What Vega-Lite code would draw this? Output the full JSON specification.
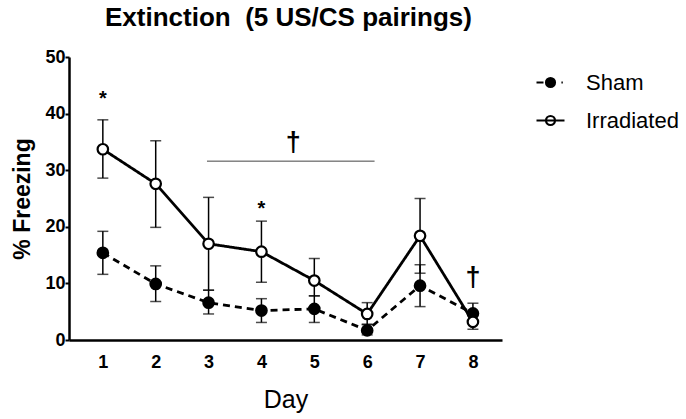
{
  "$schema": "https://vega.github.io/schema/vega-lite/v6.json",
  "width": 433,
  "height": 283,
  "autosize": "none",
  "padding": {"left": 69, "top": 57, "right": 184, "bottom": 79},
  "background": "white",
  "title": {
    "text": "Extinction \u00a0(5 US/CS pairings)",
    "font": "Liberation Sans",
    "fontSize": 26,
    "fontWeight": "bold",
    "color": "black",
    "anchor": "middle",
    "dx": 3,
    "offset": 17
  },
  "config": {
    "view": {"stroke": null},
    "font": "Liberation Sans"
  },
  "resolve": {"legend": {"fill": "independent", "strokeDash": "independent", "size": "independent"}},
  "datasets": {
    "freezing": [
      {"day": 1, "group": "Sham", "mean": 15.4, "lo": 11.6, "hi": 19.2},
      {"day": 2, "group": "Sham", "mean": 9.9, "lo": 6.8, "hi": 13.1},
      {"day": 3, "group": "Sham", "mean": 6.6, "lo": 4.6, "hi": 8.8},
      {"day": 4, "group": "Sham", "mean": 5.2, "lo": 3.1, "hi": 7.3},
      {"day": 5, "group": "Sham", "mean": 5.5, "lo": 3.1, "hi": 7.8},
      {"day": 6, "group": "Sham", "mean": 1.7, "lo": 0.9, "hi": 2.8},
      {"day": 7, "group": "Sham", "mean": 9.6, "lo": 5.9, "hi": 13.3},
      {"day": 8, "group": "Sham", "mean": 4.7, "lo": 3.0, "hi": 6.5},
      {"day": 1, "group": "Irradiated", "mean": 33.7, "lo": 28.6, "hi": 38.9},
      {"day": 2, "group": "Irradiated", "mean": 27.6, "lo": 19.9, "hi": 35.2},
      {"day": 3, "group": "Irradiated", "mean": 17.0, "lo": 8.8, "hi": 25.2},
      {"day": 4, "group": "Irradiated", "mean": 15.6, "lo": 10.2, "hi": 21.0},
      {"day": 5, "group": "Irradiated", "mean": 10.5, "lo": 7.8, "hi": 14.4},
      {"day": 6, "group": "Irradiated", "mean": 4.6, "lo": 2.7, "hi": 6.6},
      {"day": 7, "group": "Irradiated", "mean": 18.4, "lo": 11.8, "hi": 25.0},
      {"day": 8, "group": "Irradiated", "mean": 3.2, "lo": 1.9, "hi": 4.5}
    ],
    "marks": [
      {"day": 1, "y": 42.6, "label": "*"},
      {"day": 4, "y": 23.1, "label": "*"},
      {"day": 4.6, "y": 34.8, "label": "†"},
      {"day": 8, "y": 11.0, "label": "†"}
    ],
    "bracket": [
      {"start": 2.97, "end": 6.14, "y": 31.6}
    ]
  },
  "layer": [
    {
      "data": {"name": "freezing"},
      "mark": {"type": "rule", "color": "black", "strokeWidth": 1.5},
      "encoding": {
        "x": {
          "field": "day",
          "type": "quantitative",
          "scale": {"domain": [0.36, 8.55], "nice": false, "zero": false},
          "axis": {
            "values": [1, 2, 3, 4, 5, 6, 7, 8],
            "format": "d",
            "title": "Day",
            "titleFont": "Liberation Sans",
            "titleFontSize": 25,
            "titleFontWeight": "normal",
            "titleColor": "black",
            "titlePadding": 16,
            "labelFont": "Liberation Sans",
            "labelFontSize": 18,
            "labelFontWeight": "bold",
            "labelColor": "black",
            "labelPadding": 13,
            "ticks": false,
            "grid": false,
            "domainColor": "black",
            "domainWidth": 2.5
          }
        },
        "y": {
          "field": "lo",
          "type": "quantitative",
          "scale": {"domain": [0, 50], "nice": false},
          "axis": {
            "values": [0, 10, 20, 30, 40, 50],
            "title": "% Freezing",
            "titleFont": "Liberation Sans",
            "titleFontSize": 23,
            "titleFontWeight": "bold",
            "titleColor": "black",
            "titlePadding": 10,
            "labelFont": "Liberation Sans",
            "labelFontSize": 18,
            "labelFontWeight": "bold",
            "labelColor": "black",
            "labelPadding": 0,
            "tickSize": 4,
            "tickWidth": 2,
            "tickColor": "black",
            "grid": false,
            "domainColor": "black",
            "domainWidth": 2.5
          }
        },
        "y2": {"field": "hi"}
      }
    },
    {
      "data": {"name": "freezing"},
      "mark": {"type": "tick", "orient": "horizontal", "color": "black", "size": 11, "thickness": 1.5},
      "encoding": {
        "x": {"field": "day", "type": "quantitative"},
        "y": {"field": "hi", "type": "quantitative"}
      }
    },
    {
      "data": {"name": "freezing"},
      "mark": {"type": "tick", "orient": "horizontal", "color": "black", "size": 11, "thickness": 1.5},
      "encoding": {
        "x": {"field": "day", "type": "quantitative"},
        "y": {"field": "lo", "type": "quantitative"}
      }
    },
    {
      "data": {"name": "freezing"},
      "mark": {"type": "line", "color": "black", "strokeWidth": 2.8},
      "encoding": {
        "x": {"field": "day", "type": "quantitative"},
        "y": {"field": "mean", "type": "quantitative"},
        "detail": {"field": "group", "type": "nominal"},
        "strokeDash": {
          "field": "group",
          "type": "nominal",
          "scale": {"domain": ["Sham", "Irradiated"], "range": [[7, 5], [1, 0]]},
          "legend": null
        }
      }
    },
    {
      "data": {"name": "freezing"},
      "mark": {"type": "point", "shape": "circle", "size": 110, "stroke": "black", "strokeWidth": 2.2, "opacity": 1, "filled": false},
      "encoding": {
        "x": {"field": "day", "type": "quantitative"},
        "y": {"field": "mean", "type": "quantitative"},
        "fill": {
          "field": "group",
          "type": "nominal",
          "scale": {"domain": ["Sham", "Irradiated"], "range": ["black", "white"]},
          "legend": {
            "title": null,
            "orient": "none",
            "legendX": 466,
            "legendY": 10,
            "symbolSize": 784,
            "symbolStrokeColor": "black",
            "symbolStrokeWidth": 2.2,
            "symbolOpacity": 1,
            "rowPadding": 11,
            "labelFont": "Liberation Sans",
            "labelFontSize": 22,
            "labelColor": "black",
            "labelOffset": 20,
            "encode": {
              "symbols": {
                "update": {
                  "shape": {"signal": "datum.value === 'Sham' ? 'M-1,0L-0.5,0M0.78,0L0.88,0M-0.32,0A0.32,0.32 0 1 1 0.32,0A0.32,0.32 0 1 1 -0.32,0Z' : 'M-1,0L1,0M-0.32,0A0.32,0.32 0 1 1 0.32,0A0.32,0.32 0 1 1 -0.32,0Z'"}
                }
              }
            }
          }
        }
      }
    },
    {
      "data": {"name": "bracket"},
      "mark": {"type": "rule", "color": "#444444", "strokeWidth": 1},
      "encoding": {
        "x": {"field": "start", "type": "quantitative"},
        "x2": {"field": "end"},
        "y": {"field": "y", "type": "quantitative"}
      }
    },
    {
      "data": {"name": "marks"},
      "mark": {"type": "text", "font": "Liberation Sans", "fontWeight": "bold", "color": "black", "baseline": "middle"},
      "encoding": {
        "x": {"field": "day", "type": "quantitative"},
        "y": {"field": "y", "type": "quantitative"},
        "text": {"field": "label", "type": "nominal"},
        "size": {
          "field": "label",
          "type": "nominal",
          "scale": {"domain": ["*", "†"], "range": [20, 27]},
          "legend": null
        }
      }
    }
  ]
}
